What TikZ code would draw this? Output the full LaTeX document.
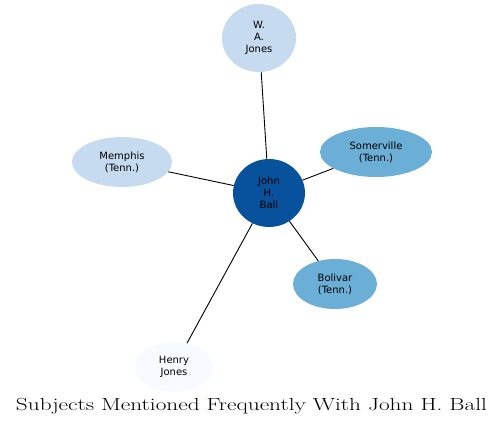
\documentclass[tikz,border=0pt]{standalone}
\usepackage{fontspec}
\usepackage{graphicx}
\setsansfont{DejaVu Sans}
\usetikzlibrary{shapes.geometric}
\definecolor{c1}{HTML}{C6DBEF}
\definecolor{c2}{HTML}{6BAED6}
\definecolor{c3}{HTML}{08519C}
\definecolor{c4}{HTML}{F7FBFF}
\begin{document}
\begin{tikzpicture}[x=1pt,y=-1pt,
  bub/.style={ellipse, draw=none, inner sep=0pt, align=center, text=black,
    font=\sffamily\fontsize{10}{12}\selectfont},
  link/.style={draw=black, line width=0.9pt}]
\useasboundingbox (0,0) rectangle (504,428);
\node[bub, fill=c1, minimum width=74, minimum height=68] (wa) at (259,38) {W.\\A.\\Jones};
\node[bub, fill=c1, minimum width=100, minimum height=50] (mem) at (122,162) {Memphis\\(Tenn.)};
\node[bub, fill=c3, minimum width=72, minimum height=68] (jhb) at (269,193) {John\\H.\\Ball};
\node[bub, fill=c2, minimum width=112, minimum height=50] (som) at (376,152) {Somerville\\(Tenn.)};
\node[bub, fill=c2, minimum width=84, minimum height=50] (bol) at (335,284) {Bolivar\\(Tenn.)};
\node[bub, fill=c4, minimum width=78, minimum height=50] (hj) at (174,367) {Henry\\Jones};
\draw[link] (jhb) -- (wa);
\draw[link] (jhb) -- (mem);
\draw[link] (jhb) -- (som);
\draw[link] (jhb) -- (bol);
\draw[link] (jhb) -- (hj);
\node[font=\fontsize{17.5}{21}\selectfont, inner sep=0pt] (title) at (251.5,406) {\resizebox{471pt}{\height}{Subjects Mentioned Frequently With John H. Ball}};
\end{tikzpicture}
\end{document}
